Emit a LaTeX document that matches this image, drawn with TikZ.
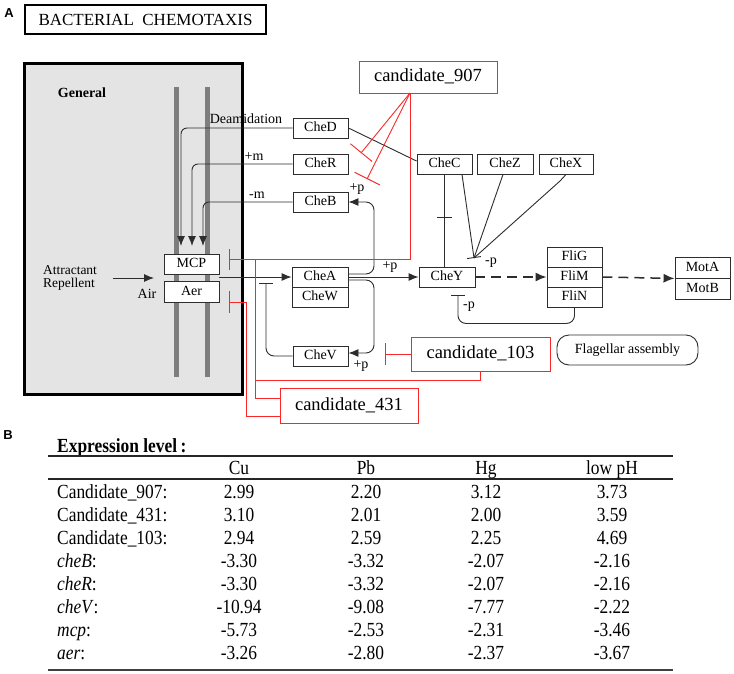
\documentclass[tikz,border=0pt]{standalone}
\usepackage{fontspec}
\setmainfont{Liberation Serif}
\newfontfamily\tabfont[FakeStretch=0.87]{Liberation Serif}
\newfontfamily\labfont{Liberation Sans}
\usetikzlibrary{arrows.meta,calc}
\definecolor{kred}{RGB}{248,40,40}
\definecolor{kline}{RGB}{45,45,45}
\definecolor{kgray}{RGB}{228,228,228}
\definecolor{kbar}{RGB}{125,125,125}
\newcommand\myfs[1]{\fontsize{#1}{#1}\selectfont}
\begin{document}
\begin{tikzpicture}[x=1pt,y=-1pt,
  kbox/.style={draw=kline,fill=white,line width=0.9pt,inner sep=0pt,minimum width=55pt,minimum height=20pt,text height=9.5pt,text depth=2.5pt,font=\myfs{14}},
  cand/.style={draw=kred,fill=white,line width=1pt,inner sep=0pt,minimum width=138pt,minimum height=33pt,text height=12pt,text depth=3pt,font=\myfs{18.5}},
  conn/.style={draw=kline,line width=0.9pt},
  arr/.style={conn,-{Latex[length=10pt,width=8pt]}},
  inh/.style={conn,-{Bar[width=14pt]}},
  rline/.style={draw=kred,line width=0.9pt},
  dasharrow/.style={conn,line width=1.5pt,dash pattern=on 10pt off 6pt,-{Latex[length=11pt,width=9pt]}},
  lbl/.style={inner sep=0pt,font=\myfs{14}},
  cell/.style={inner sep=0pt,anchor=base,font=\tabfont\myfs{20}},
]
\useasboundingbox (0,0) rectangle (734,673);
\fill[white] (0,0) rectangle (734,673);

% ---------- panel A ----------
\node[font=\labfont\bfseries\myfs{13}] (A) at (9,13) {A};
\node[draw=black,line width=2.2pt,minimum width=241pt,minimum height=29pt,inner sep=0pt,font=\myfs{17}] (title) at (145.5,19.5) {BACTERIAL\ \ CHEMOTAXIS};

\node[draw=black,line width=3pt,fill=kgray,minimum width=218pt,minimum height=331pt,inner sep=0pt] (gen) at (133,228.5) {};
\node[font=\bfseries\myfs{14}] (gentext) at (82,93) {General};
\coordinate (b1t) at (176,87); \coordinate (b1b) at (176,377);
\coordinate (b2t) at (207,87); \coordinate (b2b) at (207,377);
\draw[kbar,line width=5pt] (b1t) -- (b1b);
\draw[kbar,line width=5pt] (b2t) -- (b2b);

% nodes
\node[kbox] (MCP) at (191.5,264) {MCP};
\node[kbox,minimum height=21pt] (Aer) at (191.5,291.5) {Aer};
\node[kbox] (CheD) at (320.5,128) {CheD};
\node[kbox] (CheR) at (320.5,164) {CheR};
\node[kbox] (CheB) at (320.5,202) {CheB};
\node[kbox,minimum width=56pt] (CheA) at (320,277) {CheA};
\node[kbox,minimum width=56pt] (CheW) at (320,297) {CheW};
\node[kbox] (CheV) at (320.5,356) {CheV};
\node[kbox,minimum width=56pt] (CheY) at (447,277) {CheY};
\node[kbox] (CheC) at (444.5,164) {CheC};
\node[kbox,minimum width=56pt] (CheZ) at (505,164) {CheZ};
\node[kbox,minimum width=54pt] (CheX) at (566,164) {CheX};
\node[kbox] (FliG) at (574.5,257) {FliG};
\node[kbox] (FliM) at (574.5,277) {FliM};
\node[kbox] (FliN) at (574.5,297) {FliN};
\node[kbox,minimum height=21pt] (MotA) at (702.5,267.5) {MotA};
\node[kbox,minimum height=21pt] (MotB) at (702.5,288.5) {MotB};
\node[draw=kline,line width=0.9pt,rounded corners=12pt,minimum width=141pt,minimum height=30pt,inner sep=0pt,font=\myfs{14}] (flag) at (627.5,350) {Flagellar assembly};

\node[cand,minimum height=32pt] (n907) at (428,77) {candidate\_907};
\node[cand,minimum width=139pt,minimum height=34pt] (n103) at (480.5,354) {candidate\_103};
\node[cand,minimum height=35pt] (n431) at (349,405.5) {candidate\_431};

% labels
\node[lbl] (deam) at (246,119) {Deamidation};
\node[lbl] (pm) at (254,157) {+m};
\node[lbl] (mm) at (257,195) {-m};
\node[lbl,font=\fontsize{13.5}{13}\selectfont,align=left] (att) at (70,277.5) {Attractant\\Repellent};
\node[lbl] (air) at (147,294) {Air};
\node[lbl] (pB) at (357,189) {+p};
\node[lbl] (pV) at (361,366) {+p};
\node[lbl] (pY) at (390,267) {+p};
\node[lbl] (mpZ) at (491,263) {-p};
\node[lbl] (mpY) at (469,307) {-p};

% coordinates
\coordinate (m1) at (181,246);
\coordinate (m2) at (192,246);
\coordinate (m3) at (203,246);
\coordinate (a1) at (113,278);
\coordinate (a2) at (154,278);
\coordinate (ma) at (219,277);
\coordinate (iVA) at (266,283);
\coordinate (cv) at (474,258);
\coordinate (bx) at (560,181);
\coordinate (iY) at (458,295);

% black connectors
\draw[arr,rounded corners=6pt] (CheD.west) -| (m1);
\draw[arr,rounded corners=6pt] (CheR.west) -| (m2);
\draw[arr,rounded corners=6pt] (CheB.west) -| (m3);
\draw[arr] (a1) -- (a2);
\draw[arr] (ma) -- (CheA.west);
\draw[arr,rounded corners=8pt] ($(CheA.east)+(0,-3)$) -- (374,274) -- (374,202) -- (CheB.east);
\draw[arr,rounded corners=8pt] ($(CheA.east)+(0,3)$) -- (374,280) -- (374,353) -- ($(CheV.east)+(0,-3)$);
\draw[arr] (CheA.east) -- (CheY.west);
\draw[inh,rounded corners=8pt] (CheV.west) -| (iVA);
\draw[conn] (CheD.east) -- ($(CheC.west)+(0,-3)$);
\draw[conn] (CheC.south) -- (CheC.south |- CheY.north);
\draw[conn] ($(CheC.south)!0.47!(CheC.south |- CheY.north)+(-7.5,0)$) -- ++(15,0);
\draw[inh] ($(CheC.south)+(17.5,0)$) -- (cv);
\draw[conn] ($(CheZ.south)+(-2,0)$) -- (cv);
\draw[conn] (CheX.south) -- (bx) -- (cv);
\draw[dasharrow] (CheY.east) -- (FliM.west);
\draw[dasharrow] (FliM.east) -- (MotA.south west);
\draw[inh,rounded corners=8pt] (FliN.south) -- ++(0,16) -| (iY);

% red connectors
\coordinate (r907) at (410,93);
\coordinate (iD) at (361,153);
\coordinate (iR) at (367,179);
\coordinate (k1) at (410,259);
\coordinate (iM) at (229,259);
\coordinate (iA) at (229,302);
\coordinate (iV) at (385,354);
\draw[rline,-{Bar[width=28pt]}] (r907) -- (iD);
\draw[rline,-{Bar[width=28pt]}] (r907) -- (iR);
\draw[rline,-{Bar[width=21pt]}] (r907) -- (k1) -- (iM);
\draw[rline] ($(n431.west)+(0,-7.5)$) -| (255,259);
\draw[rline,-{Bar[width=22pt]}] ($(n431.west)+(0,10.5)$) -| (246,302) -- (iA);
\draw[rline,-{Bar[width=22pt]}] (n103.west) -- (iV);
\draw[rline] (n103.south) |- (255,380);

% ---------- panel B ----------
\node[font=\labfont\bfseries\myfs{13}] (B) at (8,435) {B};
\node[font=\tabfont\bfseries\myfs{20},inner sep=0pt,anchor=base west] (expr) at (57,452) {Expression level\,:};
\coordinate (t1) at (48,456); \coordinate (t2) at (673,456);
\coordinate (h1) at (48,479); \coordinate (h2) at (673,479);
\coordinate (e1) at (48,670); \coordinate (e2) at (673,670);
\draw[line width=2.5pt,black!85] (t1) -- (t2);
\draw[line width=1.2pt,black!85] (h1) -- (h2);
\draw[line width=2.5pt,black!75] (e1) -- (e2);
\node[cell] (hCu) at (239,474.5) {Cu};
\node[cell] (hPb) at (366,474.5) {Pb};
\node[cell] (hHg) at (486,474.5) {Hg};
\node[cell] (hpH) at (612,474.5) {low pH};
\foreach \lab/\a/\b/\c/\d [count=\i] in {
  Candidate\_907:/2.99/2.20/3.12/3.73,
  Candidate\_431:/3.10/2.01/2.00/3.59,
  Candidate\_103:/2.94/2.59/2.25/4.69,
  \textit{cheB}:/-3.30/-3.32/-2.07/-2.16,
  \textit{cheR}:/-3.30/-3.32/-2.07/-2.16,
  \textit{cheV}:/-10.94/-9.08/-7.77/-2.22,
  \textit{mcp}:/-5.73/-2.53/-2.31/-3.46,
  \textit{aer}:/-3.26/-2.80/-2.37/-3.67}
{
  \pgfmathsetmacro\yy{498.5+(\i-1)*23}
  \node[cell,anchor=base west] (L\i) at (57,\yy) {\lab};
  \node[cell] (Cu\i) at (239,\yy) {\a};
  \node[cell] (Pb\i) at (366,\yy) {\b};
  \node[cell] (Hg\i) at (486,\yy) {\c};
  \node[cell] (pH\i) at (612,\yy) {\d};
}
\end{tikzpicture}
\end{document}
